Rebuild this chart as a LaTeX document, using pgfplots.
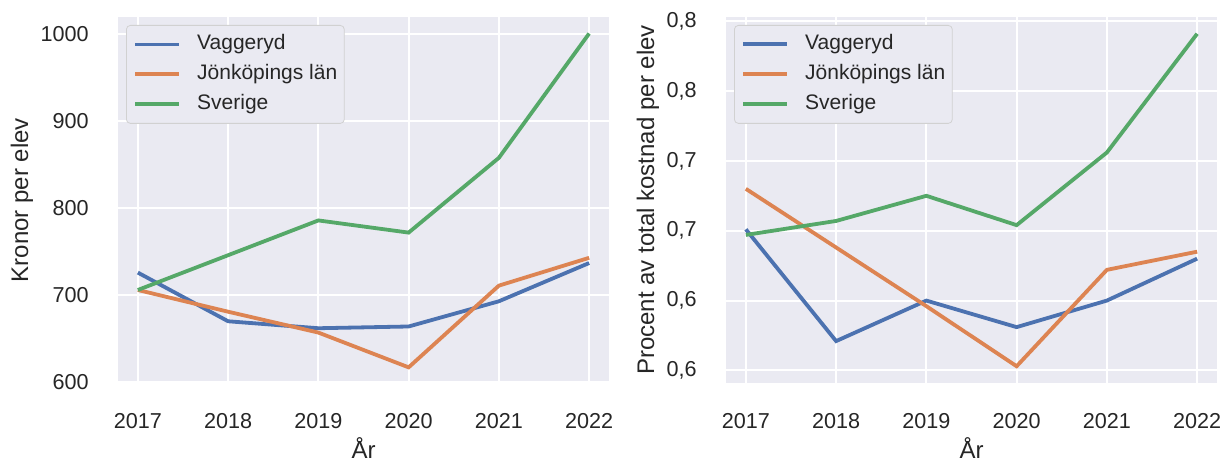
\documentclass[border=0pt]{standalone}
\usepackage{fontspec}
\setmainfont{Liberation Sans}
\usepackage{pgfplots}
\pgfplotsset{compat=1.18}
\definecolor{bgc}{HTML}{EAEAF2}
\definecolor{txt}{HTML}{262626}
\definecolor{c1}{HTML}{4C72B0}
\definecolor{c2}{HTML}{DD8452}
\definecolor{c3}{HTML}{55A868}
\pgfplotsset{sea/.style={
  scale only axis, width=245.5pt, height=183pt,
  xmin=2016.78, xmax=2022.22,
  xtick={2017,2018,2019,2020,2021,2022},
  xticklabels={2017,2018,2019,2020,2021,2022},
  axis background/.style={fill=bgc},
  grid=major, major grid style={white, line width=1pt},
  axis line style={draw=none}, tick style={draw=none},
  /pgf/number format/assume math mode=true,
  tick label style={font=\fontsize{10.8}{12}\selectfont, text=txt},
  xticklabel style={anchor=center, yshift=-19pt, inner sep=0pt},
  yticklabel style={anchor=east, xshift=-14.5pt, inner sep=0pt},
  label style={font=\fontsize{12}{14}\selectfont, text=txt},
  xlabel={År},
  xlabel style={at={(axis description cs:0.5,0)}, anchor=base, yshift=-37.5pt},
  ylabel style={at={(axis description cs:0,0.5)}, anchor=center},
  every axis plot/.append style={line width=1.9pt, mark=none},
  legend image code/.code={\draw[#1, line width=1.9pt] (0pt,0pt) -- (22pt,0pt); \path (30pt,0pt);},
  legend cell align=left,
  legend style={at={(axis description cs:0,1)}, anchor=north west, xshift=4pt, yshift=-4pt,
    fill=bgc, draw=black!18, rounded corners=2pt, inner xsep=3.5pt, inner ysep=4.5pt,
    row sep=5pt, font=\fontsize{10.5}{12}\selectfont, text=txt,
    nodes={inner sep=0pt, text height=7.5pt, text depth=2.5pt}},
}}
\begin{document}
\begin{tikzpicture}
\path[use as bounding box] (0,0) rectangle (610.5pt,230.5pt);
\begin{axis}[sea, at={(59pt,39pt)}, anchor=south west,
  ymin=599, ymax=1020, ytick={600,700,800,900,1000},
  yticklabels={600,700,800,900,1000},
  ylabel={Kronor per elev}, ylabel style={yshift=48pt}]
\addplot[c1] coordinates {(2017,726) (2018,670) (2019,662) (2020,664) (2021,693) (2022,737)};
\addlegendentry{Vaggeryd}
\addplot[c2] coordinates {(2017,706) (2018,681) (2019,657) (2020,617) (2021,711) (2022,743)};
\addlegendentry{Jönköpings län}
\addplot[c3] coordinates {(2017,706) (2018,746) (2019,786) (2020,772) (2021,858) (2022,1001)};
\addlegendentry{Sverige}
\end{axis}
\begin{axis}[sea, at={(363pt,39pt)}, anchor=south west,
  ymin=0.541, ymax=0.803, ytick={0.55,0.6,0.65,0.7,0.75,0.8},
  yticklabels={{0,6},{0,6},{0,7},{0,7},{0,8},{0,8}},
  ylabel={Procent av total kostnad per elev}, ylabel style={yshift=39pt}]
\addplot[c1] coordinates {(2017,0.651) (2018,0.571) (2019,0.600) (2020,0.581) (2021,0.600) (2022,0.630)};
\addlegendentry{Vaggeryd}
\addplot[c2] coordinates {(2017,0.680) (2018,0.638) (2019,0.596) (2020,0.553) (2021,0.622) (2022,0.635)};
\addlegendentry{Jönköpings län}
\addplot[c3] coordinates {(2017,0.647) (2018,0.657) (2019,0.675) (2020,0.654) (2021,0.706) (2022,0.791)};
\addlegendentry{Sverige}
\end{axis}
\end{tikzpicture}
\end{document}
